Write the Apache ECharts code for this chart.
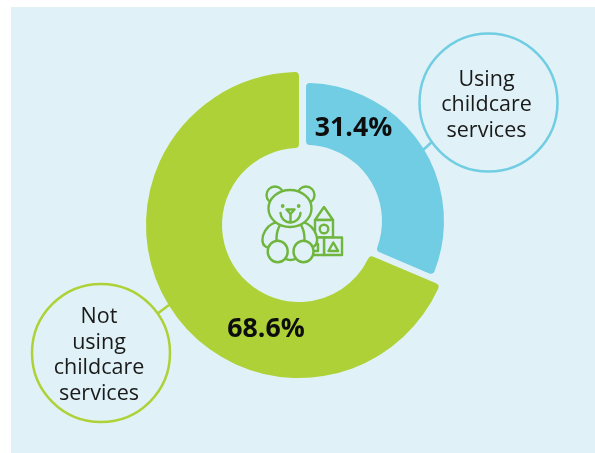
<!DOCTYPE html>
<html>
<head>
<meta charset="utf-8">
<style>html,body{margin:0;padding:0;background:#fff}#chart{width:595px;height:453px}</style>
<script src="https://cdn.jsdelivr.net/npm/echarts@6/dist/echarts.min.js"></script>
</head>
<body>
<div id="chart"></div>
<script>
// Share of children by childcare use
const categories = ['Using childcare services', 'Not using childcare services'];
const shares = [31.4, 68.6];
const bubbleLines = [['Using', 'childcare', 'services'], ['Not', 'using', 'childcare', 'services']];

const PANEL = '#e0f2f7', BLUE = '#70cde3', LIME = '#add136', ICON = '#6fb53e', INK = '#1a1a1a';
const FONT = '"Open Sans", sans-serif';

// Each segment gets its own pie so it can have its own radius and centre
function segmentSeries(index, color, center, radius, labelAt) {
  return {
    type: 'pie', silent: true, startAngle: 90, clockwise: true, center, radius,
    avoidLabelOverlap: false, labelLine: { show: false },
    labelLayout: { x: labelAt[0], y: labelAt[1], align: 'center', verticalAlign: 'middle' },
    data: categories.map((name, i) => ({
      name, value: shares[i],
      itemStyle: i === index
        ? { color, borderRadius: 4 }
        : { color: 'rgba(0,0,0,0)' },
      label: i === index
        ? { show: true, position: 'inside', formatter: p => p.value.toFixed(1) + '%',
            fontFamily: FONT, fontWeight: 700, fontSize: 26.7, color: '#0d0d0d' }
        : { show: false }
    }))
  };
}

function bubble(cx, cy, r, color, lines, lineFrom, lineTo) {
  return [
    { type: 'line', shape: { x1: lineFrom[0], y1: lineFrom[1], x2: lineTo[0], y2: lineTo[1] },
      style: { stroke: color, lineWidth: 2.5 }, z: 5 },
    { type: 'circle', shape: { cx, cy, r }, style: { fill: PANEL, stroke: color, lineWidth: 2.5 }, z: 6 },
    { type: 'text', x: cx - 2, y: cy + 2.5, z: 7,
      style: { text: lines.join('\n'), fill: INK, font: '21.5px ' + FONT, lineHeight: 25.5, align: 'center', verticalAlign: 'middle' } }
  ];
}

// Teddy bear and toy blocks, drawn back to front so outlines hide what sits behind them
const s = { fill: PANEL, stroke: ICON, lineWidth: 2.4, lineJoin: 'round', lineCap: 'round' };
const ln = { fill: null, stroke: ICON, lineWidth: 2.4, lineJoin: 'round', lineCap: 'round' };
const icon = {
  type: 'group', x: 240, y: 170, z: 8,
  children: [
    { type: 'polygon', shape: { points: [[84, 37], [75, 50], [93, 50]] }, style: s },
    { type: 'rect', shape: { x: 75, y: 50, width: 18, height: 17.5 }, style: s },
    { type: 'circle', shape: { cx: 84, cy: 59, r: 4.3 }, style: s },
    { type: 'rect', shape: { x: 84, y: 67.5, width: 18, height: 17.5 }, style: s },
    { type: 'polygon', shape: { points: [[93.3, 72.5], [88.5, 81], [98.2, 81]] }, style: s },
    { type: 'rect', shape: { x: 66, y: 67.5, width: 18, height: 17.5 }, style: s },
    { type: 'polygon', shape: { points: [[70, 74], [78, 74], [78, 81], [70, 81]] }, style: s },
    { type: 'circle', shape: { cx: 35, cy: 25, r: 8.5 }, style: s },
    { type: 'circle', shape: { cx: 66, cy: 25, r: 8.5 }, style: s },
    { type: 'ellipse', shape: { cx: 32.5, cy: 65, rx: 8.5, ry: 13.5 }, rotation: -0.55, originX: 32.5, originY: 65, style: s },
    { type: 'ellipse', shape: { cx: 67, cy: 65, rx: 8.5, ry: 13.5 }, rotation: 0.55, originX: 67, originY: 65, style: s },
    { type: 'ellipse', shape: { cx: 50.5, cy: 69, rx: 14, ry: 21 }, style: s },
    { type: 'ellipse', shape: { cx: 50, cy: 38.5, rx: 21.5, ry: 18.5 }, style: s },
    { type: 'ellipse', shape: { cx: 37.7, cy: 81.5, rx: 10, ry: 10.8 }, style: s },
    { type: 'ellipse', shape: { cx: 63.5, cy: 81.5, rx: 10, ry: 10.8 }, style: s },
    { type: 'circle', shape: { cx: 42.7, cy: 36, r: 0.7 }, style: ln },
    { type: 'circle', shape: { cx: 58.7, cy: 36, r: 0.7 }, style: ln },
    { type: 'polygon', shape: { points: [[46.5, 39.5], [54.5, 39.5], [50.5, 44]] }, style: ln },
    { type: 'polyline', shape: { points: [[50.5, 44], [50.5, 52]] }, style: ln },
    { type: 'arc', shape: { cx: 50.5, cy: 42.5, r: 10, startAngle: 0.05, endAngle: Math.PI - 0.05 }, style: ln }
  ]
};

const chart = echarts.init(document.getElementById('chart'), null, { renderer: 'canvas' });
chart.setOption({
  animation: false,
  backgroundColor: '#fff',
  graphic: { elements: [
    { type: 'rect', shape: { x: 11, y: 7, width: 584, height: 446 }, style: { fill: PANEL }, z: -10 },
    ...bubble(488.5, 102.5, 69, BLUE, bubbleLines[0], [423, 150], [433, 141]),
    ...bubble(101, 353, 69, LIME, bubbleLines[1], [157, 314], [169, 305]),
    icon
  ] },
  series: [
    segmentSeries(1, LIME, [299, 225], [77, 153], [266, 329]),
    segmentSeries(0, BLUE, [306, 221], [76, 138], [353.5, 128])
  ]
});
</script>
</body>
</html>
